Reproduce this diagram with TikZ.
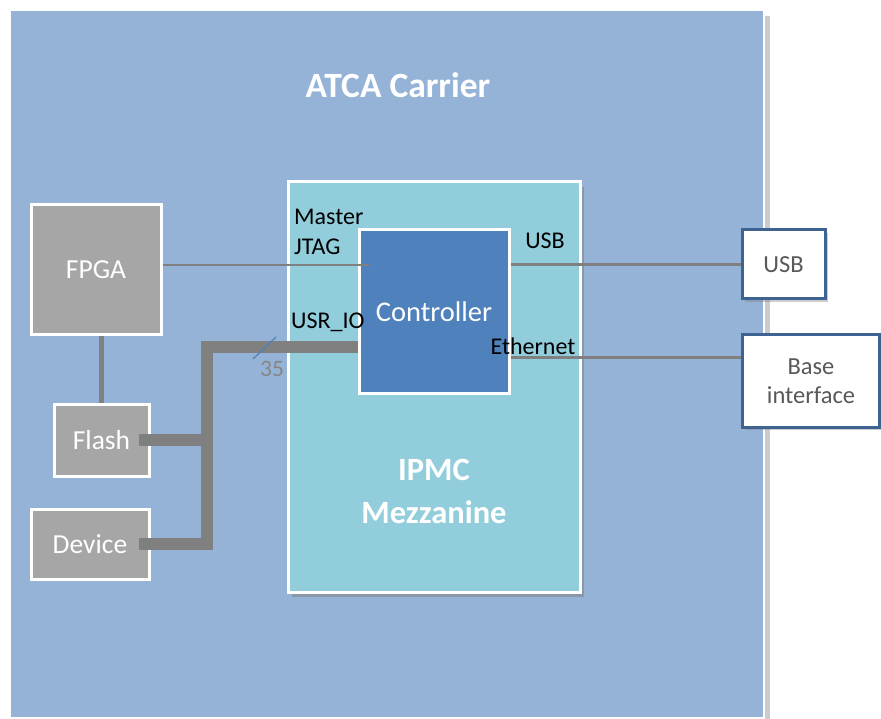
\documentclass[tikz,border=0pt]{standalone}
\usepackage{fontspec}
\setmainfont{Carlito}
\usetikzlibrary{shadows}
\definecolor{carrierblue}{HTML}{95B3D7}
\definecolor{mezzblue}{HTML}{92CDDC}
\definecolor{ctrlblue}{HTML}{4F81BD}
\definecolor{chipgray}{HTML}{A6A6A6}
\definecolor{wiregray}{HTML}{808080}
\definecolor{portblue}{HTML}{3F6391}
\definecolor{portgray}{HTML}{595959}
\tikzset{
	block/.style={draw=white, line width=3pt, inner sep=0pt, text=white},
	chipbox/.style={block, fill=chipgray, font=\fontsize{27.5}{33}\selectfont},
	portbox/.style={draw=portblue, line width=3pt, fill=white, inner sep=0pt, text=portgray, align=center,
		font=\fontsize{24.5}{29}\selectfont, drop shadow={shadow xshift=3pt, shadow yshift=-3pt, opacity=0.4}},
	pinlabel/.style={inner sep=0pt, text=black, font=\fontsize{24}{30}\selectfont},
	wire/.style={draw=wiregray, line width=2.5pt},
	bus/.style={draw=wiregray, line width=12pt}
}
\begin{document}
\begin{tikzpicture}[x=1pt,y=-1pt]
		\fill[white] (0,0) rectangle (881,719); \useasboundingbox (0,0) rectangle (881,719);
		% carrier board and mezzanine
		\node[draw=white, line width=2pt, fill=carrierblue, minimum width=754pt, minimum height=708pt,
			drop shadow={shadow xshift=6pt, shadow yshift=-6pt, opacity=0.4}] (carrier) at (387,364) {};
		\node[text=white, font=\fontsize{35.5}{40}\selectfont\bfseries] (title) at (398,85) {ATCA Carrier};
		\node[block, fill=mezzblue, minimum width=292pt, minimum height=410pt,
			drop shadow={shadow xshift=4pt, shadow yshift=-5pt, opacity=0.55}] (mezz) at (434,387) {};
		\node[text=white, align=center, font=\fontsize{32.5}{43}\selectfont\bfseries] (mezzlbl) at (434,491) {IPMC\\Mezzanine};
		\node[block, fill=ctrlblue, minimum width=150pt, minimum height=163pt, font=\fontsize{28.5}{33}\selectfont] (ctrl) at (434,311.5) {Controller};
		% chips on the carrier
		\node[chipbox, minimum width=130pt, minimum height=130pt] (fpga) at (96,270) {FPGA};
		\node[chipbox, minimum width=95pt, minimum height=72pt] (flash) at (101.5,440) {Flash};
		\node[chipbox, minimum width=118pt, minimum height=70pt] (device) at (90,544) {Device};
		% front ports
		\node[portbox, minimum width=83pt, minimum height=69pt] (usb) at (783.5,264.5) {USB};
		\node[portbox, minimum width=137pt, minimum height=92pt] (base) at (811,381) {Base\\interface};
		% connections
		\coordinate (jtag) at ([yshift=5pt]fpga.east); \coordinate (eth) at ([yshift=-46pt]ctrl.east);
		\coordinate (usrio) at ([yshift=-35.5pt]ctrl.west); \coordinate (split) at (207,347);
		\draw[wire] (jtag) -- ([xshift=11pt]jtag -| ctrl.west);
		\draw[wire] (usb.west -| ctrl.east) -- (usb.west);
		\draw[wire] (eth) -- (eth -| base.west);
		\draw[draw=wiregray, line width=5pt] (flash.north) -- (flash.north |- fpga.south);
		\draw[bus] (usrio) -- (split) |- ([xshift=-12pt]device.east);
		\draw[bus] ([xshift=-12pt]flash.east) -- (flash.east -| split);
		\draw[ctrlblue, line width=1.2pt] (253,359) -- (276,337);
		\node[text=wiregray!95, inner sep=0pt, font=\fontsize{23.5}{28}\selectfont] (width) at (272,369) {35};
		% pin labels
		\node[pinlabel, align=left, anchor=west] (jtaglbl) at (294,232) {Master\\JTAG};
		\node[pinlabel, anchor=west] (usriolbl) at (291,322) {USR\_IO};
		\node[pinlabel] (usblbl) at (545,241) {USB};
		\node[pinlabel] (ethlbl) at (533,346) {Ethernet};
	\end{tikzpicture}
\end{document}
